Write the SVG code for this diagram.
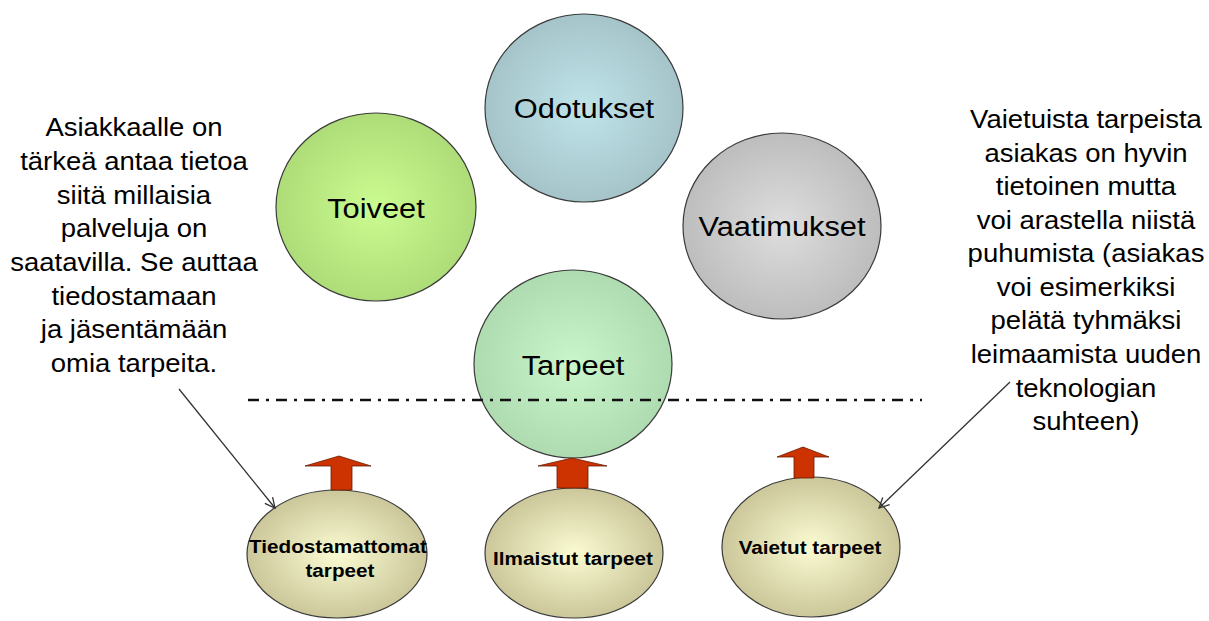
<svg xmlns="http://www.w3.org/2000/svg" width="1209" height="621" viewBox="0 0 1209 621">
<style>
.circ{stroke:#3a3a3a;stroke-width:1.2}
.lbl{font-family:"Liberation Sans",Arial,sans-serif;font-size:28px;fill:#000;text-anchor:middle;transform-box:fill-box;transform-origin:center;transform:scaleX(1.1)}
.sm{font-family:"Liberation Sans",Arial,sans-serif;font-size:19px;font-weight:bold;fill:#000;text-anchor:middle;transform-box:fill-box;transform-origin:center;transform:scaleX(1.09)}
.note{font-family:"Liberation Sans",Arial,sans-serif;font-size:25px;fill:#000;text-anchor:middle;transform-box:fill-box;transform-origin:center;transform:scaleX(1.1)}
.blk{fill:#cc3300;stroke:#6a1a00;stroke-width:0.8}
.ptr{fill:none;stroke:#333;stroke-width:1.3}
</style>
<defs>
<radialGradient id="gOd" cx="0.5" cy="0.5" r="0.5"><stop offset="0" stop-color="#bfe4ea"/><stop offset="1" stop-color="#a5c4c9"/></radialGradient>
<radialGradient id="gTo" cx="0.5" cy="0.5" r="0.5"><stop offset="0" stop-color="#cbfc90"/><stop offset="1" stop-color="#aedc78"/></radialGradient>
<radialGradient id="gVa" cx="0.5" cy="0.5" r="0.5"><stop offset="0" stop-color="#dedede"/><stop offset="1" stop-color="#bdbdbd"/></radialGradient>
<radialGradient id="gTa" cx="0.5" cy="0.5" r="0.5"><stop offset="0" stop-color="#caf6cc"/><stop offset="1" stop-color="#aedbb0"/></radialGradient>
<radialGradient id="gBo" cx="0.5" cy="0.5" r="0.5"><stop offset="0" stop-color="#fbfbd2"/><stop offset="1" stop-color="#cbc79a"/></radialGradient>
<marker id="open" viewBox="0 0 12 12" refX="11" refY="6" markerWidth="12" markerHeight="12" markerUnits="userSpaceOnUse" orient="auto">
<path d="M1,1 L11,6 L1,11" fill="none" stroke="#333" stroke-width="1.3"/>
</marker>
</defs>
<rect width="1209" height="621" fill="#fff"/>

<g id="node-odotukset">
<ellipse class="circ" cx="584" cy="108" rx="99" ry="94" fill="url(#gOd)"/>
<text class="lbl" x="584" y="118">Odotukset</text>
</g>
<g id="node-toiveet">
<ellipse class="circ" cx="376" cy="207" rx="100" ry="94" fill="url(#gTo)"/>
<text class="lbl" x="376" y="218">Toiveet</text>
</g>
<g id="node-vaatimukset">
<ellipse class="circ" cx="782" cy="226" rx="99" ry="93" fill="url(#gVa)"/>
<text class="lbl" x="782" y="236">Vaatimukset</text>
</g>
<g id="node-tarpeet">
<ellipse class="circ" cx="573" cy="364" rx="99" ry="94" fill="url(#gTa)"/>
<text class="lbl" x="573" y="375">Tarpeet</text>
</g>

<g id="node-tiedostamattomat">
<ellipse class="circ" cx="337" cy="554" rx="90" ry="64" fill="url(#gBo)"/>
<text class="sm" x="338" y="553">Tiedostamattomat</text>
<text class="sm" x="340" y="577">tarpeet</text>
</g>
<g id="node-ilmaistut">
<ellipse class="circ" cx="574" cy="553" rx="89" ry="65" fill="url(#gBo)"/>
<text class="sm" x="573" y="565">Ilmaistut tarpeet</text>
</g>
<g id="node-vaietut">
<ellipse class="circ" cx="811" cy="547" rx="89" ry="70" fill="url(#gBo)"/>
<text class="sm" x="810" y="554">Vaietut tarpeet</text>
</g>

<g id="note-left">
<text class="note" x="134" y="136">Asiakkaalle on</text>
<text class="note" x="134" y="170">tärkeä antaa tietoa</text>
<text class="note" x="134" y="204">siitä millaisia</text>
<text class="note" x="134" y="237">palveluja on</text>
<text class="note" x="134" y="271">saatavilla. Se auttaa</text>
<text class="note" x="134" y="305">tiedostamaan</text>
<text class="note" x="134" y="338">ja jäsentämään</text>
<text class="note" x="134" y="372">omia tarpeita.</text>
</g>
<g id="note-right">
<text class="note" x="1086" y="128">Vaietuista tarpeista</text>
<text class="note" x="1086" y="162">asiakas on hyvin</text>
<text class="note" x="1086" y="195">tietoinen mutta</text>
<text class="note" x="1086" y="229">voi arastella niistä</text>
<text class="note" x="1086" y="262">puhumista (asiakas</text>
<text class="note" x="1086" y="296">voi esimerkiksi</text>
<text class="note" x="1086" y="329">pelätä tyhmäksi</text>
<text class="note" x="1086" y="363">leimaamista uuden</text>
<text class="note" x="1086" y="397">teknologian</text>
<text class="note" x="1086" y="430">suhteen)</text>
</g>

<g id="connectors">
<line x1="248" y1="400" x2="922" y2="400" stroke="#111" stroke-width="2.4" stroke-dasharray="11 7 3 7"/>
<polygon class="blk" points="339,456 371,466 352,466 352,490 331,490 331,466 305,466"/>
<polygon class="blk" points="572,458 607,466 588,466 588,488 557,488 557,466 538,466"/>
<polygon class="blk" points="803,447 829,457 814,457 814,478 794,478 794,457 777,457"/>
<line class="ptr" x1="179" y1="389" x2="275" y2="508" marker-end="url(#open)"/>
<line class="ptr" x1="1010" y1="382" x2="879" y2="508" marker-end="url(#open)"/>
</g>
</svg>
